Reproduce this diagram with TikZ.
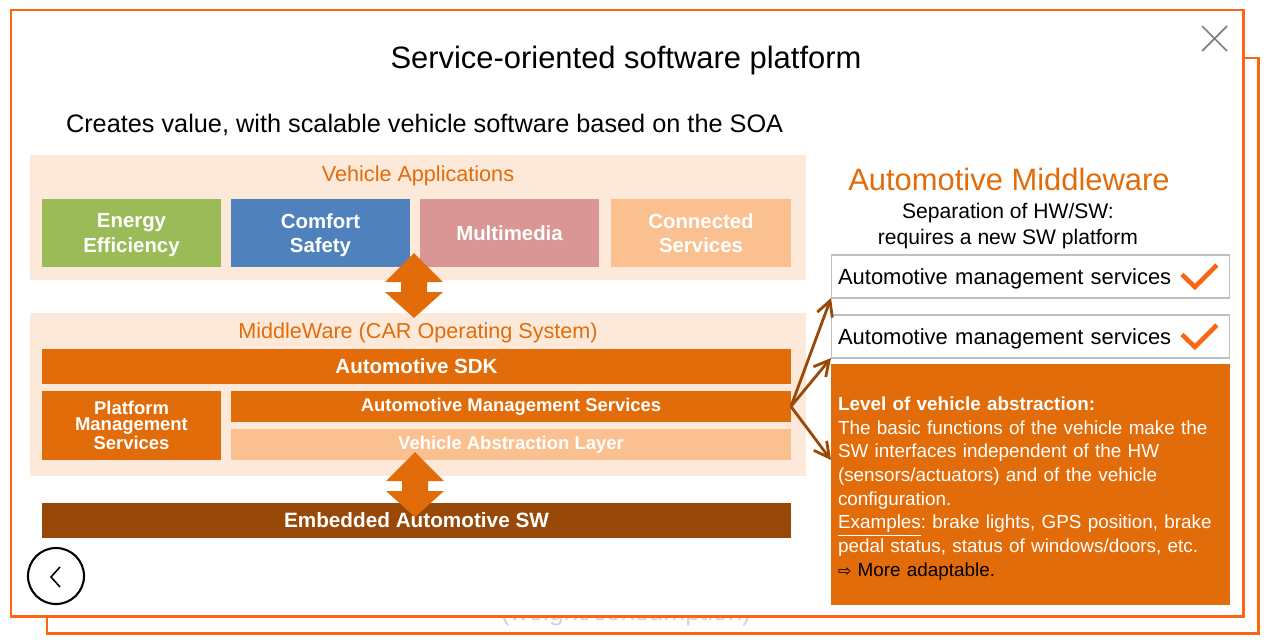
\documentclass[tikz,border=0pt]{standalone}
\usepackage{fontspec}
\setmainfont{Liberation Sans}
\newfontfamily\symbolfont{DejaVu Sans}
\usetikzlibrary{arrows.meta}
\definecolor{frameorange}{RGB}{250,102,18}
\definecolor{mworange}{RGB}{227,108,10}
\definecolor{lightpeach}{RGB}{253,233,217}
\definecolor{paleorange}{RGB}{250,192,144}
\definecolor{appgreen}{RGB}{155,187,89}
\definecolor{appblue}{RGB}{79,129,189}
\definecolor{apppink}{RGB}{217,150,148}
\definecolor{darkbrown}{RGB}{152,72,7}
\definecolor{boxgray}{RGB}{191,191,191}
\newcommand{\fsz}[2]{\fontsize{#1}{#2}\selectfont}
\tikzset{
	dblarrow/.pic={\fill[mworange] (0,-33) -- (29,-4) -- (13,-4) -- (13,6) -- (29,6) -- (0,32) -- (-29,6) -- (-13,6) -- (-13,-4) -- (-29,-4) -- cycle;},
	tick/.pic={\draw[frameorange, line width=2.6pt] (-48,-2) -- (-35,10.5) -- (-13,-11.5);}
}

\begin{document}
\begin{tikzpicture}[x=0.02cm, y=-0.02cm, every node/.style={inner sep=0pt, outer sep=0pt},
	>={Straight Barb[length=3mm, width=3.2mm]},
	panel/.style={fill=lightpeach, minimum width=15.52cm},
	layertitle/.style={mworange, font=\fsz{12.3}{15}, anchor=base},
	appbox/.style={minimum width=3.58cm, minimum height=1.36cm, text=white, align=center, text depth=0pt, font=\fsz{11.6}{14}\bfseries},
	mwbar/.style={fill=mworange, text=white, align=center, font=\fsz{11.7}{14}\bfseries},
	svcbox/.style={draw=boxgray, fill=white, line width=0.6pt, minimum height=0.86cm, text width=7.7cm, inner xsep=0.14cm, align=left, text depth=0pt, font=\fsz{12.5}{15}}]
	\useasboundingbox (0,0) rectangle (1272,643);
	% frames
	\draw[frameorange, line width=1.7pt] (47,58) rectangle (1258,633);
	\node[gray!35, font=\fsz{15}{18}] (weight) at (626,614) {(weight/consumption)};
	\draw[frameorange, line width=1.7pt, fill=white] (11,10) rectangle (1243,616);
	\draw[gray, line width=1pt] (1202,26) -- (1227,51) (1227,26) -- (1202,51);
	\node[font=\fsz{17.6}{21}, anchor=base] (title) at (626,68) {Service-oriented software platform};
	\node[font=\fsz{14.4}{17}, anchor=base west] (subtitle) at (66,132) {Creates value, with scalable vehicle software based on the SOA};
	% vehicle applications
	\node[panel, minimum height=2.5cm] (apps) at (418,217.5) {};
	\node[layertitle] (appstitle) at (418,181) {Vehicle Applications};
	\node[appbox, fill=appgreen] (energy) at (131.5,233) {Energy\\Efficiency};
	\node[appbox, fill=appblue] (comfort) at (320.5,233) {Comfort\\Safety};
	\node[appbox, fill=apppink] (media) at (509.5,233) {Multimedia};
	\node[appbox, fill=paleorange, minimum width=3.6cm] (connected) at (701,233) {Connected\\Services};
	% middleware
	\node[panel, minimum height=3.26cm] (mwpanel) at (418,394.5) {};
	\node[layertitle] (mwtitle) at (418,338) {MiddleWare (CAR Operating System)};
	\node[mwbar, minimum width=14.98cm, minimum height=0.7cm] (sdk) at (416.5,366.5) {Automotive SDK};
	\node[mwbar, minimum width=3.58cm, minimum height=1.38cm, font=\fsz{10.5}{9.4}\bfseries] (pms) at (131.5,425.5) {Platform\\Management\\Services};
	\node[mwbar, minimum width=11.2cm, minimum height=0.62cm, font=\fsz{10.5}{12}\bfseries] (ams) at (511,406.5) {Automotive Management Services};
	\node[mwbar, fill=paleorange, minimum width=11.2cm, minimum height=0.62cm, font=\fsz{10.5}{12}\bfseries] (val) at (511,444.5) {Vehicle Abstraction Layer};
	\node[mwbar, fill=darkbrown, minimum width=14.98cm, minimum height=0.7cm, font=\fsz{11.8}{14}\bfseries] (embedded) at (416.5,520.5) {Embedded Automotive SW};
	\pic at (414,286) {dblarrow};
	\pic at (415,485) {dblarrow};
	% back button
	\draw[line width=1.2pt] (56,576) circle (28);
	\draw[line width=0.9pt] (60,567) -- (51,577) -- (60,587);
	% automotive middleware
	\node[mworange, font=\fsz{17.6}{21}, anchor=base] (amw) at (1009,190) {Automotive Middleware};
	\node[font=\fsz{12}{14.7}, align=center, anchor=base] (hwsw) at (1008,244) {Separation of HW/SW:\\requires a new SW platform};
	\node[svcbox] (svc1) at (1030.5,276.5) {Automotive management services};
	\node[svcbox] (svc2) at (1030.5,336.5) {Automotive management services};
	\pic at (svc1.east) {tick};
	\pic at (svc2.east) {tick};
	\node[fill=mworange, minimum width=7.98cm, minimum height=4.82cm] (vabs) at (1030.5,484.5) {};
	\node[anchor=north west, text width=7.8cm, align=left, text=white, font=\fsz{10.75}{13.45}\frenchspacing] (vabstext) at (838,397)
		{\textbf{Level of vehicle abstraction:}\\
		The basic functions of the vehicle make the\\
		SW interfaces independent of the HW\\
		(sensors/actuators) and of the vehicle\\
		configuration.\\
		\underline{Examples}: brake lights, GPS position, brake\\
		pedal status, status of windows/doors, etc.\\
		\textcolor{black}{{\symbolfont\fsz{9}{13.45}⇨} More adaptable.}};
	\draw[->, darkbrown, line width=1.6pt] (ams.east) -- (svc1.south west);
	\draw[->, darkbrown, line width=1.6pt] (ams.east) -- (svc2.south west);
	\draw[->, darkbrown, line width=1.6pt] (ams.east) -- (vabs.west |- val.south east);
\end{tikzpicture}
\end{document}
